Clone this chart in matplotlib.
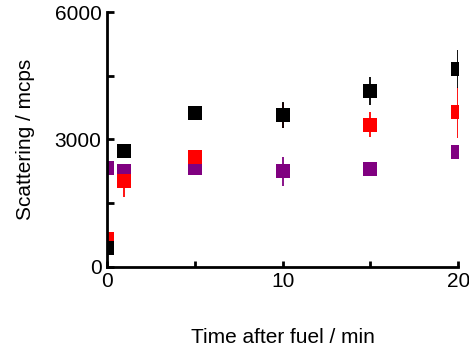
import numpy as np
import matplotlib.pyplot as plt

plt.rcParams['font.family'] = ['Liberation Sans', 'DejaVu Sans']

# time after fuel addition (min)
time = [0, 1, 5, 10, 15, 20]

# scattering (mcps) and standard deviations for the three samples
black_mean = [450, 2720, 3630, 3580, 4140, 4660]
black_err = [80, 120, 90, 300, 320, 440]
red_mean = [660, 2030, 2590, 3570, 3350, 3640]
red_err = [90, 380, 80, 290, 290, 600]
purple_mean = [2320, 2250, 2320, 2250, 2310, 2700]
purple_err = [60, 60, 80, 340, 40, 60]

series = [
    (purple_mean, purple_err, '#800080'),
    (red_mean, red_err, '#ff0000'),
    (black_mean, black_err, '#000000'),
]

fig = plt.figure(figsize=(4.69, 3.53), dpi=100)
ax = fig.add_axes([0.228, 0.244, 0.749, 0.722])

for mean, err, col in series:
    ax.errorbar(time, mean, yerr=err, fmt='s', color=col, ecolor=col,
                markersize=10, elinewidth=1.3, capsize=2, capthick=1.3,
                markeredgewidth=0)

ax.set_xlim(0, 20)
ax.set_ylim(0, 6000)
ax.set_xticks([0, 10, 20])
ax.set_xticks([5, 15], minor=True)
ax.set_yticks([0, 3000, 6000])
ax.set_yticks([1500, 4500], minor=True)

for side in ['top', 'right']:
    ax.spines[side].set_visible(False)
for side in ['left', 'bottom']:
    ax.spines[side].set_linewidth(2)

ax.tick_params(axis='both', which='both', direction='in', width=2,
               labelsize=15, pad=4)
ax.tick_params(axis='y', which='both', length=5)
ax.tick_params(axis='x', which='both', length=4)

ax.set_xlabel('Time after fuel / min', fontsize=15, labelpad=26)
ax.set_ylabel('Scattering / mcps', fontsize=15, labelpad=14)

fig.savefig('out.png', dpi=100)
